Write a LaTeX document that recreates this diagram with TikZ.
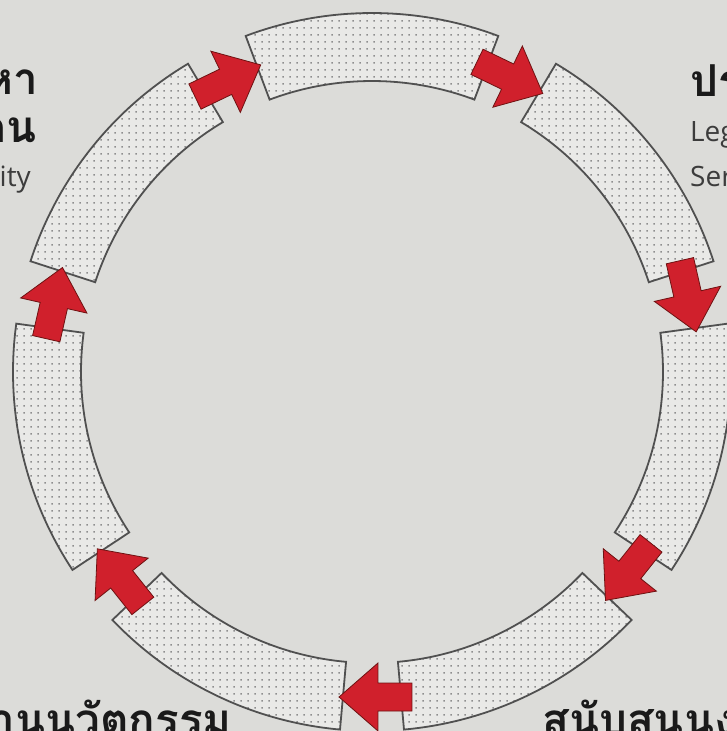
\documentclass[tikz,border=0pt]{standalone}
\usepackage{fontspec}
\usepackage{tikz}
\usetikzlibrary{patterns}
\setmainfont{Open Sans}
\newfontfamily\thaifont[Script=Thai]{Loma}
\definecolor{paper}{HTML}{DCDCD9}
\definecolor{ringfill}{HTML}{E9E9E7}
\definecolor{ringdot}{HTML}{8E8E8E}
\definecolor{ringline}{HTML}{505050}
\definecolor{flowred}{HTML}{D0202C}
\definecolor{flowedge}{HTML}{6E1212}
\definecolor{inktext}{HTML}{1A1A1A}
\pgfdeclarepatternformonly{ringdots}{\pgfpointorigin}{\pgfpoint{7pt}{7pt}}{\pgfpoint{7pt}{7pt}}{%
  \pgfpathrectangle{\pgfpoint{2.6pt}{2.6pt}}{\pgfpoint{1.8pt}{1.8pt}}\pgfusepath{fill}}
\tikzset{
  segment/.style = {fill=ringfill, postaction={pattern=ringdots, pattern color=ringdot},
                    postaction={draw=ringline, line width=1.8pt}},
  turn/.style    = {draw=flowedge, line width=0.8pt, fill=flowred, line join=miter},
  head/.style    = {font=\thaifont\bfseries\fontsize{44}{50}\selectfont, text=inktext, inner sep=0pt},
  sub/.style     = {font=\fontsize{28}{32}\selectfont, text=inktext!85, inner sep=0pt},
}

\begin{document}
\begin{tikzpicture}[x=1pt, y=1pt]
  \useasboundingbox[fill=paper] (-372,-359) rectangle (355,372);
  \clip (-372,-359) rectangle (355,372);
  % ring pieces
  \foreach \k in {0,...,6} {
    \pgfmathsetmacro{\mid}{-64.2857+51.4286*\k}
    \path[segment] (\mid-20.6:359) arc[start angle=\mid-20.6, end angle=\mid+20.6, radius=359]
      -- (\mid+20.6:291) arc[start angle=\mid+20.6, end angle=\mid-20.6, radius=291] -- cycle;
  }
  % arrows in the gaps, clockwise
  \foreach \k in {0,...,6} {
    \pgfmathsetmacro{\gap}{-90+51.4286*\k}
    \coordinate (g\k) at (\gap:325);
    \path[turn, shift={(g\k)}, rotate=\gap-90]
      (-40,-14) -- (-6,-14) -- (-6,-34) -- (33,0) -- (-6,34) -- (-6,14) -- (-40,14) -- cycle;
  }
  % labels, cut by the frame
  \node[head, anchor=base east] (lt1) at (-334,277) {สรรหา};
  \node[head, anchor=base east] (lt2) at (-335,229) {พัฒนาคน};
  \node[sub, anchor=base east] (lt3) at (-341,185) {Capability};
  \node[head, anchor=base west] (rt1) at (318,275) {ประสาน};
  \node[sub, anchor=base west] (rt2) at (318,230) {Legal};
  \node[sub, anchor=base west] (rt3) at (318,185) {Services};
  \node[head, anchor=base east] (lb) at (-140,-363) {ด้านนวัตกรรม};
  \node[head, anchor=base west] (rb) at (170,-363) {สนับสนุนงาน};
\end{tikzpicture}
\end{document}
